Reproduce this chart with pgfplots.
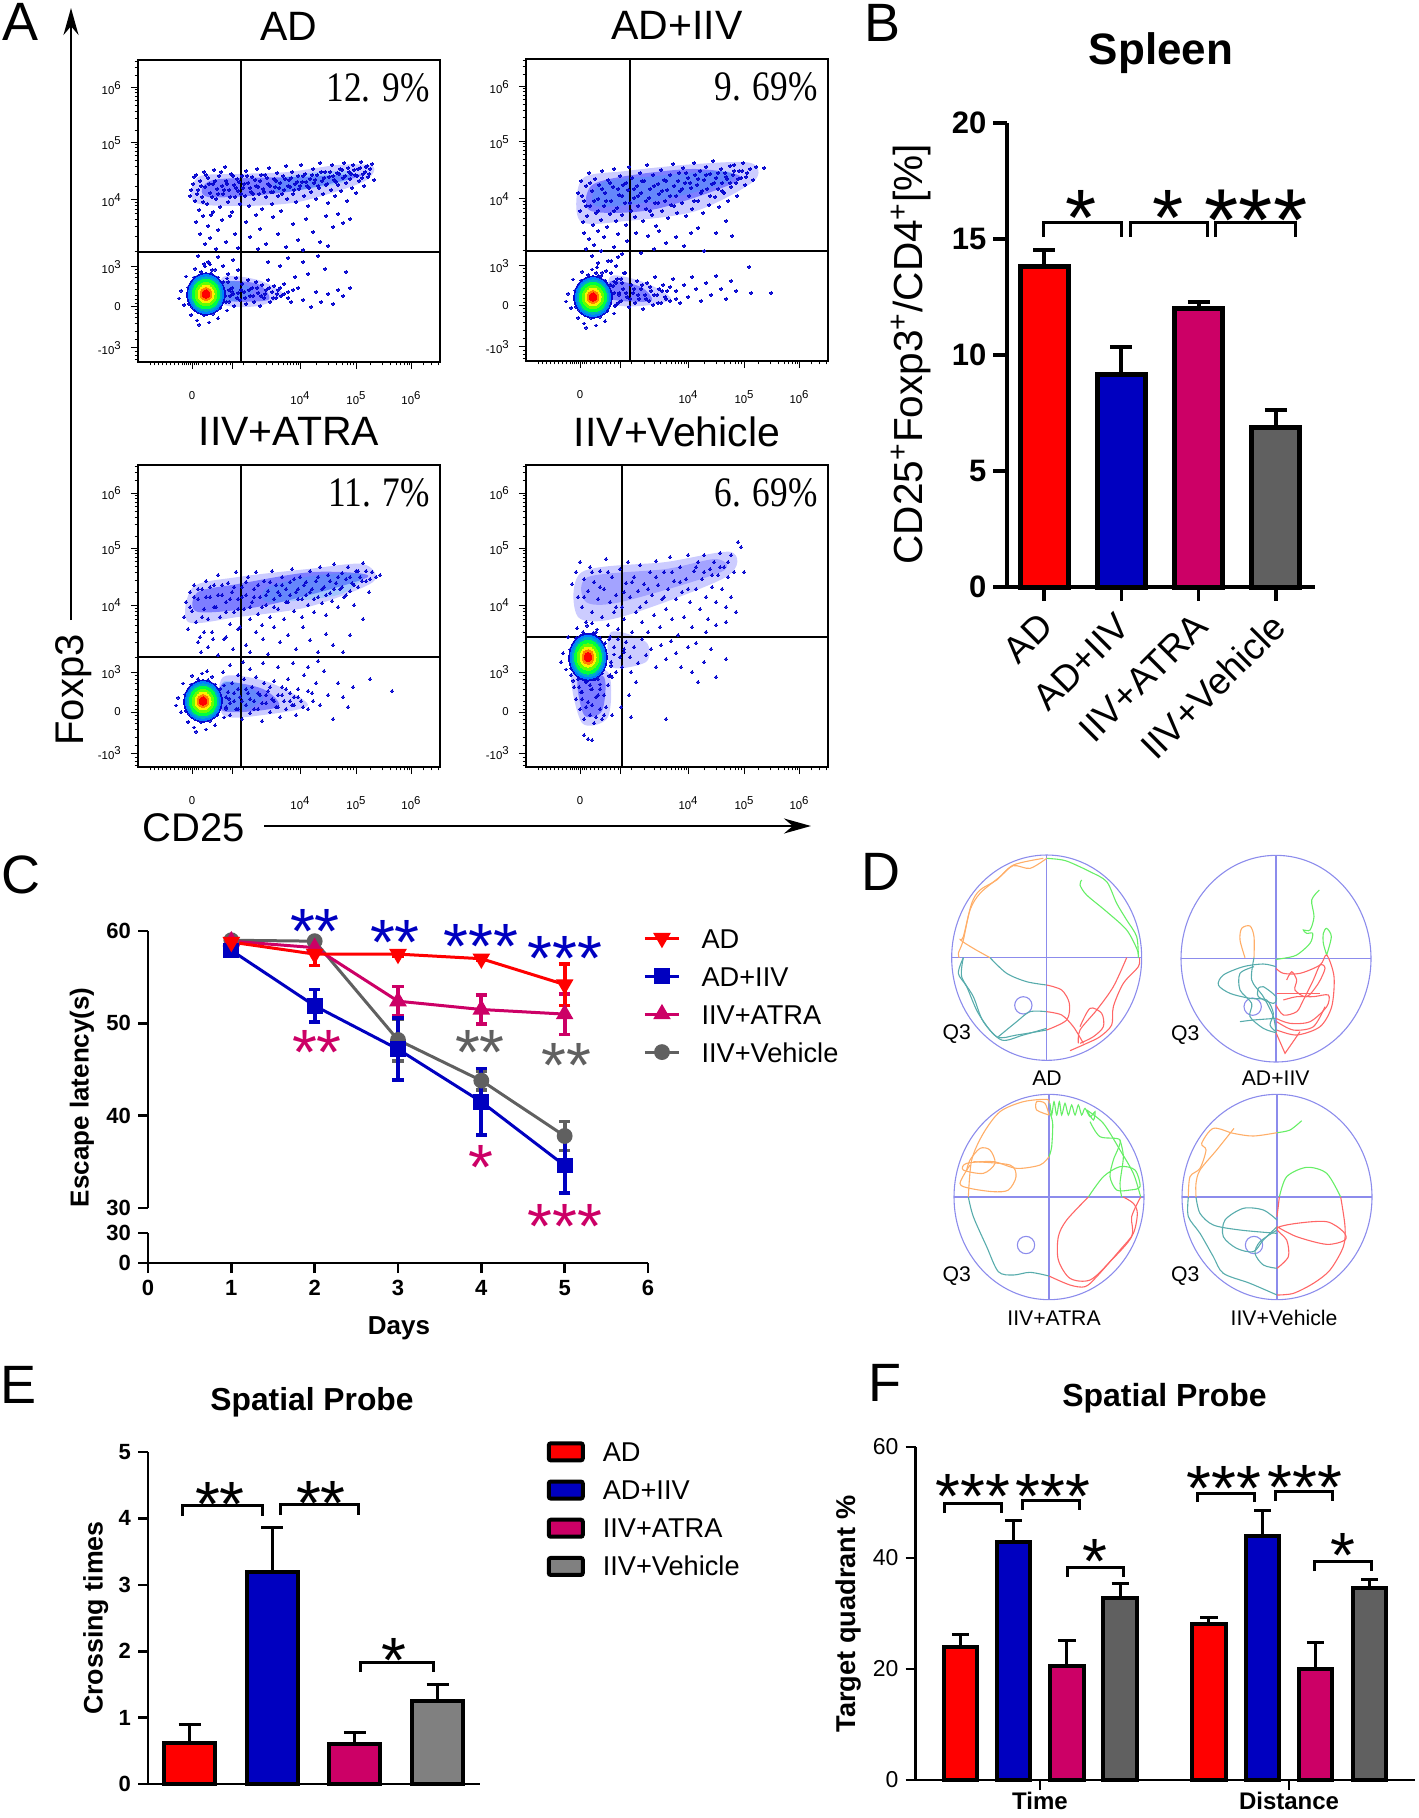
\documentclass[border=0pt]{standalone}
\usepackage{fontspec}
\setmainfont{Liberation Sans}
\newfontfamily\pctfont{Liberation Serif}
\usepackage{graphicx}
\usepackage{pgfplots}
\usepackage{pgfplotstable}
\pgfplotsset{compat=1.18}
\usetikzlibrary{arrows.meta}

\newcommand{\fs}[1]{\fontsize{#1}{#1}\selectfont}
\newcommand{\tp}[1]{10\raisebox{2.6pt}{#1}}
\newcommand{\pct}[1]{\node[anchor=east,inner sep=0pt,font=\pctfont\fs{21}] at (axis cs:292,274) {\scalebox{.84}[1]{#1}};}

\definecolor{cred}{HTML}{FF0000}
\definecolor{cblue}{HTML}{0000C0}
\definecolor{cmag}{HTML}{CC0066}
\definecolor{cgray}{HTML}{606060}
\definecolor{cgrayb}{HTML}{808080}
\definecolor{dotblue}{HTML}{0808D0}
\definecolor{ccir}{HTML}{8C8CEC}
\definecolor{ctrkt}{HTML}{58ACAC}
\definecolor{ctrko}{HTML}{FFAE68}
\definecolor{ctrkg}{HTML}{66EE66}
\definecolor{ctrkr}{HTML}{FF6666}

\pgfplotsset{
  every axis title shift=0pt,
  pos/.style 2 args={at={(#1*0.5pt,-#2*0.5pt)},anchor=south west},
  wh/.style 2 args={scale only axis,width=#1*0.5pt,height=#2*0.5pt},
  ebar/.style 2 args={
    /pgfplots/error bars/y explicit,
    /pgfplots/error bars/error bar style={line width=#1,black},
    /pgfplots/error bars/error mark options={rotate=90,mark size=#2,line width=#1,black}},
  flow/.style={
    wh={302}{302},xmin=0,xmax=302,ymin=0,ymax=302,clip=false,
    axis line style={line width=.7pt},
    tick style={black,line width=.5pt},
    tick align=outside,xtick pos=bottom,ytick pos=left,
    major tick length=3.6pt,minor tick length=1.7pt,
    xtick={54,94,162,218,273},xticklabels={0,{},\tp{4},\tp{5},\tp{6}},
    ytick={14,55,95,162,219,274},yticklabels={-\tp{3},0,\tp{3},\tp{4},\tp{5},\tp{6}},
    minor xtick={12,16,20,24,28,32,36,40,44,46,48,50,52,56,58,60,64,68,72,76,80,84,88,92,105,118,128,134,140,145,149,152,155,158,160,178,190,198,204,209,212,215,232,244,252,258,262,266,269,271,285,293,300},
    minor ytick={2,6,10,22,30,38,44,48,52,58,62,66,72,78,84,88,92,110,125,135,142,148,152,156,159,175,187,195,201,206,210,214,217,231,243,250,256,261,265,269,272,286,294,300},
    every tick label/.append style={font=\fs{5.7}},
    xticklabel style={yshift=-7.5pt},
    yticklabel style={xshift=-1.5pt},
    title style={at={(axis description cs:0.5,1.11)},anchor=center,font=\fs{20.5}},
  },
  dots/.style={only marks,mark=*,mark size=.68pt,mark options={draw=dotblue,fill=dotblue,line width=0pt}},
  band/.style={draw=none,fill=#1,fill opacity=.2,smooth cycle,forget plot},
  core/.style={draw=none,fill=#1,fill opacity=.38,smooth cycle,forget plot},
  gate/.style={black,line width=.9pt,forget plot},
  trk/.style={smooth,no markers,line width=.55pt,#1},
  prism/.style={
    axis x line*=bottom,axis y line*=left,
    axis line style={-,line width=1.3pt},
    tick style={black,line width=1.3pt},
    tick align=outside,xtick pos=bottom,ytick pos=left,
    major tick length=5pt,
    /pgf/number format/assume math mode=true,
    clip=false,
  },
}

% flow cytometry dots: px from the panel's lower left corner
\pgfplotstableread[row sep=\\]{x y\\
52 166\\55 178\\57 161\\58 187\\60 172\\61 152\\62 181\\64 165\\66 190\\67 175\\69 158\\70 184\\72 169\\73 147\\75 178\\76 192\\78 163\\79 173\\81 186\\82 155\\84 176\\85 168\\87 195\\88 181\\90 160\\91 172\\93 188\\94 150\\96 177\\97 165\\99 183\\100 171\\102 158\\104 186\\105 174\\107 166\\108 191\\110 179\\111 156\\113 170\\114 185\\116 163\\118 176\\119 193\\121 168\\122 181\\124 153\\125 173\\127 187\\128 165\\130 178\\131 194\\133 170\\134 158\\136 183\\137 175\\139 189\\140 166\\142 179\\143 151\\145 186\\146 172\\148 196\\149 163\\151 182\\152 175\\154 190\\155 168\\157 178\\158 160\\160 186\\161 173\\163 197\\164 180\\166 166\\167 188\\169 176\\170 156\\172 183\\173 170\\175 193\\176 179\\178 163\\179 187\\181 174\\182 199\\184 181\\185 168\\187 190\\188 177\\190 159\\191 185\\193 172\\194 197\\196 182\\197 166\\199 189\\200 177\\202 193\\203 171\\205 184\\206 199\\208 179\\209 161\\211 190\\212 183\\214 174\\215 197\\217 187\\218 169\\220 193\\221 181\\223 200\\225 188\\226 176\\228 195\\230 185\\232 193\\234 198\\236 182\\
53 172\\56 185\\59 168\\63 176\\65 160\\68 187\\71 178\\74 165\\77 181\\80 168\\83 190\\86 172\\89 178\\92 165\\95 186\\98 174\\101 180\\103 168\\106 178\\109 186\\112 174\\115 168\\117 182\\120 175\\123 187\\126 170\\129 184\\132 176\\135 170\\138 181\\141 174\\144 168\\147 183\\150 176\\153 184\\156 172\\159 180\\162 176\\165 186\\168 180\\171 174\\174 187\\177 182\\180 176\\183 190\\186 184\\189 178\\192 190\\195 186\\198 180\\201 188\\204 192\\207 186\\210 194\\213 188\\216 192\\219 186\\222 194\\224 184\\227 190\\229 196\\231 188\\
58 140\\62 128\\65 146\\67 118\\70 136\\72 124\\75 150\\78 113\\80 132\\84 142\\88 120\\92 146\\97 128\\100 114\\108 140\\112 125\\118 147\\122 133\\128 118\\135 145\\140 128\\148 115\\155 138\\160 122\\168 143\\175 130\\182 120\\188 146\\195 135\\200 148\\205 139\\212 143\\120 113\\165 112\\190 116\\
85 72\\88 60\\90 80\\92 66\\94 74\\96 56\\98 84\\100 69\\102 62\\104 78\\106 70\\108 58\\110 82\\112 66\\114 74\\116 60\\118 80\\120 69\\122 56\\124 77\\126 64\\128 72\\130 82\\132 60\\134 70\\136 76\\138 64\\140 72\\143 66\\146 78\\150 70\\153 60\\157 85\\160 74\\165 62\\170 88\\173 55\\178 70\\183 60\\187 93\\190 68\\195 58\\200 72\\205 66\\208 90\\212 74\\70 100\\74 92\\80 105\\85 96\\90 88\\95 102\\100 92\\60 106\\66 98\\130 100\\142 96\\150 104\\165 100\\180 106\\
87 66\\91 72\\95 68\\99 64\\103 72\\107 64\\111 72\\115 66\\119 74\\123 66\\127 68\\131 74\\135 64\\139 68\\142 74\\146 68\\150 64\\155 72\\
}\dotsAD
\pgfplotstableread[row sep=\\]{x y\\
52 168\\54 150\\55 180\\57 139\\58 160\\60 175\\61 145\\63 188\\64 155\\66 170\\67 136\\69 182\\70 148\\72 162\\73 176\\75 141\\76 190\\78 155\\79 168\\81 134\\82 181\\84 147\\85 160\\87 174\\88 192\\90 140\\91 153\\93 166\\94 185\\96 146\\97 176\\99 158\\100 136\\102 171\\103 194\\105 150\\106 183\\108 163\\109 144\\111 175\\112 155\\114 188\\115 168\\117 140\\118 180\\120 152\\121 196\\123 163\\124 172\\126 146\\127 186\\129 158\\130 135\\132 177\\133 167\\135 191\\136 150\\138 181\\139 160\\141 171\\142 143\\144 186\\145 156\\147 197\\148 175\\150 165\\151 148\\153 188\\154 170\\156 158\\157 193\\159 178\\160 145\\162 183\\163 165\\165 173\\166 152\\168 198\\169 186\\171 176\\172 160\\174 190\\175 168\\177 148\\178 181\\180 194\\181 172\\183 156\\184 187\\186 177\\187 200\\189 164\\190 183\\192 172\\193 154\\195 192\\196 178\\198 168\\199 188\\201 182\\202 160\\204 195\\205 174\\207 186\\208 196\\210 178\\211 165\\213 190\\215 183\\217 198\\219 176\\221 188\\224 192\\227 181\\230 194\\238 193\\
56 165\\60 155\\64 178\\68 160\\72 150\\76 172\\80 160\\84 178\\88 150\\92 172\\96 165\\100 178\\104 158\\108 172\\112 165\\116 180\\120 160\\124 150\\128 175\\132 158\\136 170\\140 180\\144 165\\148 155\\152 180\\156 172\\160 188\\164 178\\168 160\\172 182\\176 170\\180 186\\184 165\\188 178\\192 188\\196 170\\200 184\\204 178\\208 190\\212 182\\216 190\\220 184\\
58 128\\60 112\\63 122\\66 105\\68 116\\72 130\\75 110\\78 124\\82 100\\88 114\\92 127\\96 107\\101 120\\110 128\\115 108\\122 125\\128 112\\133 130\\140 118\\150 124\\158 115\\165 128\\172 133\\178 110\\190 128\\200 140\\206 125\\
85 62\\87 75\\89 55\\91 82\\93 68\\95 60\\97 72\\99 88\\101 64\\103 54\\105 76\\107 68\\109 58\\111 80\\113 62\\115 72\\117 52\\119 66\\121 78\\123 60\\125 70\\127 56\\129 84\\131 66\\133 72\\135 58\\137 76\\139 64\\141 70\\144 60\\147 82\\150 70\\154 58\\158 76\\162 64\\166 84\\170 72\\175 60\\180 78\\185 66\\190 85\\195 72\\200 62\\205 80\\210 70\\223 94\\245 68\\225 68\\80 90\\85 100\\90 95\\92 104\\98 88\\72 98\\
88 68\\92 58\\96 78\\100 68\\104 62\\108 72\\112 66\\116 76\\120 62\\124 74\\128 66\\132 58\\136 70\\140 62\\144 74\\150 62\\75 85\\80 78\\85 88\\90 78\\95 82\\70 88\\
}\dotsIIV
\pgfplotstableread[row sep=\\]{x y\\
46 150\\48 165\\50 138\\52 175\\54 156\\56 182\\58 145\\60 168\\62 130\\64 178\\66 158\\68 186\\70 148\\72 170\\74 135\\76 182\\78 160\\80 192\\82 150\\84 172\\86 128\\88 165\\90 184\\92 143\\94 175\\96 155\\98 195\\100 168\\102 140\\104 180\\106 158\\108 172\\110 190\\112 148\\114 165\\116 178\\118 195\\120 153\\122 170\\124 142\\126 186\\128 162\\130 176\\132 150\\134 196\\136 168\\138 182\\140 158\\142 172\\144 190\\146 148\\148 178\\150 165\\152 185\\154 198\\156 156\\158 175\\160 168\\162 190\\164 150\\166 182\\168 172\\170 162\\172 196\\174 178\\176 155\\178 186\\180 170\\182 200\\184 164\\186 180\\188 152\\190 192\\192 174\\194 166\\196 203\\198 184\\200 160\\202 178\\204 194\\206 170\\208 188\\210 200\\212 176\\214 184\\216 162\\218 196\\220 180\\222 190\\225 204\\228 186\\231 175\\234 195\\238 190\\242 192\\
52 160\\56 170\\60 178\\64 150\\68 170\\72 180\\76 160\\80 172\\84 182\\88 155\\92 168\\96 180\\100 158\\104 170\\108 185\\112 160\\116 170\\120 182\\124 160\\128 172\\132 185\\136 160\\140 175\\144 182\\148 165\\152 172\\156 188\\160 178\\164 168\\168 185\\172 175\\176 168\\180 190\\184 178\\188 172\\192 186\\196 178\\200 190\\204 180\\208 172\\212 190\\216 182\\220 196\\224 186\\228 196\\232 188\\
60 125\\63 115\\66 135\\70 120\\75 128\\80 112\\88 130\\95 118\\100 138\\108 122\\112 115\\118 135\\125 128\\130 113\\136 140\\142 125\\150 132\\158 118\\165 140\\172 127\\180 115\\188 133\\195 122\\205 115\\212 132\\225 148\\
88 60\\90 75\\92 52\\94 84\\96 66\\98 58\\100 78\\102 70\\104 48\\106 88\\108 62\\110 74\\112 54\\114 80\\116 66\\118 90\\120 58\\122 72\\124 46\\126 84\\128 64\\130 76\\132 55\\134 68\\136 86\\138 60\\140 72\\142 50\\144 80\\146 66\\148 58\\150 88\\152 74\\154 62\\156 70\\158 52\\160 78\\163 66\\166 92\\170 58\\174 74\\178 84\\182 62\\186 96\\190 72\\195 48\\200 84\\205 70\\210 60\\215 80\\232 88\\254 76\\85 95\\92 102\\100 92\\105 105\\112 98\\125 104\\140 100\\155 104\\170 100\\180 106\\
88 70\\92 64\\96 74\\100 58\\104 66\\108 78\\112 68\\116 58\\120 74\\124 64\\128 72\\132 80\\136 66\\140 60\\144 72\\148 78\\152 66\\156 62\\160 70\\165 60\\170 76\\175 66\\
}\dotsATRA
\pgfplotstableread[row sep=\\]{x y\\
46 183\\50 195\\52 170\\54 205\\56 160\\58 188\\60 145\\62 176\\64 200\\66 155\\68 185\\70 135\\72 168\\74 196\\76 150\\78 178\\80 208\\82 142\\84 165\\86 190\\88 155\\90 172\\92 138\\94 198\\96 160\\98 148\\100 184\\102 205\\104 170\\106 135\\108 190\\110 155\\112 176\\114 202\\116 145\\118 183\\120 165\\122 135\\124 195\\126 172\\128 152\\130 206\\132 182\\134 140\\136 168\\138 195\\140 158\\142 178\\144 210\\146 148\\148 186\\150 168\\152 132\\154 200\\156 175\\158 150\\160 188\\162 212\\164 165\\166 140\\168 196\\170 178\\172 205\\174 158\\176 188\\178 212\\180 170\\182 148\\184 198\\186 180\\188 205\\190 165\\192 192\\194 214\\196 178\\198 200\\200 160\\202 190\\205 212\\208 195\\212 225\\215 220\\218 195\\210 155\\200 145\\190 142\\180 135\\205 170\\
58 170\\66 195\\74 180\\82 195\\90 160\\98 175\\106 185\\114 160\\122 178\\130 190\\138 170\\146 195\\154 185\\162 178\\170 200\\178 195\\186 192\\194 200\\202 205\\60 60\\66 62\\72 72\\78 52\\64 82\\56 68\\70 50\\74 78\\
100 125\\104 110\\108 120\\112 104\\116 128\\120 112\\125 118\\130 100\\135 122\\140 108\\145 126\\150 114\\155 100\\162 120\\170 124\\178 105\\185 118\\200 108\\190 90\\172 85\\166 95\\105 95\\98 118\\110 85\\103 72\\
45 92\\48 80\\50 68\\52 88\\54 58\\56 75\\58 48\\60 85\\62 65\\64 52\\66 78\\68 44\\70 70\\72 88\\74 58\\76 48\\78 72\\80 60\\82 82\\84 92\\86 52\\58 32\\62 28\\66 27\\95 60\\105 50\\140 48\\
85 105\\88 120\\90 95\\92 128\\94 110\\96 100\\98 115\\84 130\\86 90\\
}\dotsVeh
% speckled rim of the dense core, px from its centre
\pgfplotstableread[row sep=\\]{x y\\
18 3\\23 -7\\17 11\\21 14\\12 15\\9 22\\5 19\\-1 25\\-5 20\\-11 23\\-12 15\\-20 16\\-18 6\\-25 3\\-18 -3\\-22 -10\\-17 -9\\-15 -19\\-10 -15\\-9 -24\\-2 -19\\3 -26\\7 -18\\12 -22\\14 -13\\21 -15\\26 2\\-27 -4\\4 27\\-7 -28\\
}\dotsRim

% density core of a panel, colours from the outer blue to the red centre
\newcommand{\hotring}[3]{\addplot[only marks,mark=*,mark size=#1,forget plot,mark options={draw=#2,fill=#2,line width=0pt,yscale=#3}]}
\newcommand{\hot}[3]{%
  \addplot[dots,forget plot] table[x expr=\thisrow{x}+#1,y expr=\thisrow{y}*#3+#2] {\dotsRim};
  \hotring{9.6pt}{dotblue}{#3} coordinates {(#1,#2)};
  \hotring{8.8pt}{blue!50!cyan}{#3} coordinates {(#1,#2)};
  \hotring{7.8pt}{cyan!75!green}{#3} coordinates {(#1,#2)};
  \hotring{6.8pt}{green!75!cyan}{#3} coordinates {(#1,#2)};
  \hotring{5.4pt}{green!60!yellow}{#3} coordinates {(#1,#2)};
  \hotring{4pt}{yellow}{#3} coordinates {(#1,#2)};
  \hotring{2.9pt}{orange}{#3} coordinates {(#1,#2)};
  \hotring{1.9pt}{red}{#3} coordinates {(#1,#2)};
}
\newcommand{\bracket}[5]{\draw[line width=#5] ({#1*0.5pt},{-#4*0.5pt}) -- ({#1*0.5pt},{-#3*0.5pt}) -- ({#2*0.5pt},{-#3*0.5pt}) -- ({#2*0.5pt},{-#4*0.5pt});}
\newcommand{\sig}[5]{\node[inner sep=0pt,anchor=base,text=#5,font=\fs{#4}] at ({#1*0.5pt},{-#2*0.5pt-0.52*#4pt}) {#3};}
\newcommand{\letter}[3]{\node[inner sep=0pt,font=\fs{27}] at ({#1*0.5pt},{-#2*0.5pt}) {#3};}

\begin{document}
\begin{tikzpicture}
\path (0pt,0pt) rectangle (709pt,-909pt);

% ---------- A
\begin{axis}[flow,pos={138}{362},title={AD}]
\addplot[band=blue] coordinates {(56,160)(100,156)(160,160)(225,180)(235,196)(200,197)(150,190)(100,188)(60,185)};
\addplot[core=blue] coordinates {(70,165)(150,170)(225,187)(160,185)(75,182)};
\addplot[band=cyan] coordinates {(140,170)(200,178)(215,190)(180,190)(140,183)};
\addplot[band=blue] coordinates {(85,58)(120,56)(145,68)(120,82)(85,85)};
\addplot[core=blue] coordinates {(85,62)(130,62)(120,78)(85,80)};
\addplot[band=cyan] coordinates {(85,62)(105,62)(115,72)(100,80)(85,80)};
\addplot[dots] table {\dotsAD};
\hot{68}{68}{1.1}
\addplot[gate] coordinates {(103,0)(103,302)};
\addplot[gate] coordinates {(0,110)(302,110)};
\pct{12. 9\%}
\end{axis}
\begin{axis}[flow,pos={526}{361},title={AD+IIV}]
\addplot[band=blue] coordinates {(54,140)(100,140)(170,150)(228,180)(225,198)(170,197)(100,190)(56,182)};
\addplot[core=blue] coordinates {(65,150)(130,152)(215,182)(170,192)(100,185)(65,175)};
\addplot[band=cyan] coordinates {(70,155)(130,160)(200,178)(200,190)(130,185)(75,178)};
\addplot[band=blue] coordinates {(85,58)(115,55)(145,62)(120,78)(85,85)};
\addplot[core=blue] coordinates {(85,62)(125,60)(115,74)(85,80)};
\addplot[dots] table {\dotsIIV};
\hot{67}{64}{1.1}
\addplot[gate] coordinates {(104,0)(104,302)};
\addplot[gate] coordinates {(0,110)(302,110)};
\pct{9. 69\%}
\end{axis}
\begin{axis}[flow,pos={138}{767},title={IIV+ATRA}]
\addplot[band=blue] coordinates {(50,145)(100,150)(170,160)(235,185)(225,203)(170,198)(100,190)(55,180)};
\addplot[core=blue] coordinates {(60,155)(130,162)(230,190)(175,195)(100,183)(60,175)};
\addplot[band=cyan] coordinates {(130,165)(200,172)(225,192)(180,192)(130,180)};
\addplot[band=blue] coordinates {(85,52)(125,52)(170,62)(130,85)(85,90)};
\addplot[core=blue] coordinates {(85,56)(140,60)(125,78)(85,84)};
\addplot[band=cyan] coordinates {(85,58)(110,58)(125,70)(105,82)(85,85)};
\addplot[dots] table {\dotsATRA};
\hot{65}{66}{1.1}
\addplot[gate] coordinates {(103,0)(103,302)};
\addplot[gate] coordinates {(0,110)(302,110)};
\pct{11. 7\%}
\end{axis}
\begin{axis}[flow,pos={526}{767},title={IIV+Vehicle}]
\addplot[band=blue] coordinates {(52,150)(95,150)(200,190)(205,215)(140,205)(56,195)};
\addplot[band=blue] coordinates {(60,165)(95,165)(195,195)(190,208)(140,198)(62,190)};
\addplot[band=blue] coordinates {(46,95)(82,95)(82,50)(56,44)};
\addplot[core=blue] coordinates {(52,90)(78,90)(76,56)(58,52)};
\addplot[band=blue] coordinates {(85,100)(120,105)(120,125)(85,135)};
\addplot[dots] table {\dotsVeh};
\hot{62}{110}{1.25}
\addplot[gate] coordinates {(96,0)(96,302)};
\addplot[gate] coordinates {(0,130)(302,130)};
\pct{6. 69\%}
\end{axis}
\draw[line width=1.15pt,-{Stealth[length=13.5pt,width=7.5pt]}] (35.5pt,-310pt) -- (35.5pt,-4pt);
\draw[line width=1.15pt,-{Stealth[length=13.5pt,width=7.5pt]}] (132pt,-413pt) -- (405.5pt,-413pt);
\node[rotate=90,font=\fs{20}] at (37pt,-345pt) {Foxp3};
\node[font=\fs{20}] at (97pt,-414pt) {CD25};
\letter{21}{22}{A}

% ---------- B
\begin{axis}[prism,pos={1007}{587},wh={308}{464},
  xmin=-0.479,xmax=3.506,ymin=0,ymax=20,
  axis line style={-,line width=1.7pt},tick style={black,line width=1.7pt},major tick length=6.8pt,
  ytick={0,5,10,15,20},xtick={0,1,2,3},
  xticklabels={AD,AD+IIV,IIV+ATRA,IIV+Vehicle},
  yticklabel style={font=\bfseries\fs{15.5}},
  xticklabel style={font=\fs{18.5},rotate=45,anchor=north east,inner sep=1pt,xshift=-5pt},
  bar width=24pt,
  title={Spleen},title style={at={(axis description cs:0.5,1.151)},anchor=center,font=\bfseries\fs{22}},
  ylabel={CD25\textsuperscript{+}Foxp3\textsuperscript{+}/CD4\textsuperscript{+}[\%]},
  ylabel style={at={(axis description cs:-0.312,0.502)},anchor=center,font=\fs{20.3}},
]
\addplot[ybar,bar shift=0pt,fill=cred,draw=black,line width=2.5pt,error bars/y dir=plus,ebar={2pt}{5.5pt}] coordinates {(0,13.8) +- (0,0.72)};
\addplot[ybar,bar shift=0pt,fill=cblue,draw=black,line width=2.5pt,error bars/y dir=plus,ebar={2pt}{5.5pt}] coordinates {(1,9.17) +- (0,1.17)};
\addplot[ybar,bar shift=0pt,fill=cmag,draw=black,line width=2.5pt,error bars/y dir=plus,ebar={2pt}{5.5pt}] coordinates {(2,12.0) +- (0,0.28)};
\addplot[ybar,bar shift=0pt,fill=cgray,draw=black,line width=2.5pt,error bars/y dir=plus,ebar={2pt}{5.5pt}] coordinates {(3,6.86) +- (0,0.77)};
\end{axis}
\bracket{1043}{1121}{223}{237}{1.5pt}
\bracket{1130}{1207}{223}{237}{1.5pt}
\bracket{1215}{1295}{223}{237}{1.5pt}
\sig{1081}{204}{*}{40}{black}
\sig{1168}{204}{*}{40}{black}
\sig{1256}{205}{***}{44}{black}
\letter{882}{23}{B}

% ---------- C
\begin{axis}[prism,pos={148}{1208},wh={500}{277},
  xmin=0,xmax=6,ymin=30,ymax=60,
  axis x line=none,
  ytick={30,40,50,60},
  yticklabel style={font=\bfseries\fs{11}},
  ylabel={Escape latency(s)},
  ylabel style={at={(axis description cs:-0.132,0.40)},anchor=center,font=\bfseries\fs{13}},
  reverse legend,legend cell align=left,
  legend style={at={(0.99,1.012)},anchor=north west,draw=none,fill=none,font=\fs{13.6},
    inner sep=0pt,row sep=9pt,nodes={inner sep=0pt,text height=10pt,text depth=0pt},
    /tikz/every odd column/.append style={column sep=10.5pt}},
  /pgfplots/error bars/y dir=both,
]
\addplot[cgray,line width=1.5pt,mark=*,mark size=3.2pt,mark options={fill=cgray,solid},
  error bars/y explicit,error bars/error bar style={line width=2pt,cgray},
  error bars/error mark options={rotate=90,mark size=2.9pt,line width=1.8pt,cgray}]
  coordinates {(1,59.0) +- (0,0.2) (2,58.9) +- (0,0.2) (3,48.2) +- (0,2.3) (4,43.8) +- (0,1.0) (5,37.8) +- (0,1.55)};
\addlegendentry{IIV+Vehicle}
\addplot[cmag,line width=1.5pt,mark=triangle*,mark size=3.6pt,mark options={fill=cmag,solid},
  error bars/y explicit,error bars/error bar style={line width=2pt,cmag},
  error bars/error mark options={rotate=90,mark size=2.9pt,line width=1.8pt,cmag}]
  coordinates {(1,58.9) +- (0,0.2) (2,58.2) +- (0,0.4) (3,52.4) +- (0,1.6) (4,51.5) +- (0,1.6) (5,51.0) +- (0,2.2)};
\addlegendentry{IIV+ATRA}
\addplot[cblue,line width=1.5pt,mark=square*,mark size=3.2pt,mark options={fill=cblue,solid},
  error bars/y explicit,error bars/error bar style={line width=2pt,cblue},
  error bars/error mark options={rotate=90,mark size=2.9pt,line width=1.8pt,cblue}]
  coordinates {(1,57.9) +- (0,0.5) (2,51.9) +- (0,1.75) (3,47.2) +- (0,3.35) (4,41.5) +- (0,3.6) (5,34.6) +- (0,2.95)};
\addlegendentry{AD+IIV}
\addplot[cred,line width=1.5pt,mark=triangle*,mark size=3.6pt,mark options={fill=cred,solid,rotate=180},
  error bars/y explicit,error bars/error bar style={line width=2pt,cred},
  error bars/error mark options={rotate=90,mark size=2.9pt,line width=1.8pt,cred}]
  coordinates {(1,58.8) +- (0,0.3) (2,57.5) +- (0,1.25) (3,57.5) +- (0,0.2) (4,57.0) +- (0,0.2) (5,54.2) +- (0,2.25)};
\addlegendentry{AD}
\end{axis}
\begin{axis}[prism,pos={148}{1263},wh={500}{30},
  xmin=0,xmax=6,ymin=0,ymax=30,
  ytick={0,30},xtick={0,1,2,3,4,5,6},
  xticklabel style={font=\bfseries\fs{11}},
  yticklabel style={font=\bfseries\fs{11}},
  xlabel={Days},
  xlabel style={at={(axis description cs:0.502,-2.17)},anchor=center,font=\bfseries\fs{13}},
]
\end{axis}
\sig{315}{920}{**}{32}{cblue}
\sig{395}{931}{**}{32}{cblue}
\sig{481}{935}{***}{32}{cblue}
\sig{565}{947}{***}{32}{cblue}
\sig{317}{1041}{**}{32}{cmag}
\sig{481}{1156}{*}{32}{cmag}
\sig{565}{1215}{***}{32}{cmag}
\sig{480}{1041}{**}{32}{cgray}
\sig{566}{1054}{**}{32}{cgray}
\letter{21}{875}{C}

% ---------- D, in the 3x pixels of the crop
\begin{axis}[pos={930}{1340},wh={470}{500},xmin=0,xmax=1410,ymin=0,ymax=1500,y dir=reverse,hide axis,clip=false]
\draw[ccir,line width=.55pt] (axis cs:350,353) ellipse [x radius=285,y radius=308];
\draw[ccir,line width=.55pt] (axis cs:1038,356) ellipse [x radius=285,y radius=310];
\draw[ccir,line width=.55pt] (axis cs:357,1071) ellipse [x radius=285,y radius=308];
\draw[ccir,line width=.55pt] (axis cs:1041,1071) ellipse [x radius=285,y radius=308];
\draw[ccir,line width=.55pt] (axis cs:280,496) ellipse [x radius=26,y radius=26];
\draw[ccir,line width=.55pt] (axis cs:968,500) ellipse [x radius=26,y radius=26];
\draw[ccir,line width=.55pt] (axis cs:288,1215) ellipse [x radius=26,y radius=26];
\draw[ccir,line width=.55pt] (axis cs:972,1215) ellipse [x radius=26,y radius=26];
\addplot[ccir,line width=.55pt] coordinates {(65,353)(635,353)};
\addplot[ccir,line width=.55pt] coordinates {(350,45)(350,661)};
\addplot[ccir,line width=.55pt] coordinates {(753,356)(1323,356)};
\addplot[ccir,line width=.55pt] coordinates {(1038,46)(1038,666)};
\addplot[ccir,line width=.55pt] coordinates {(72,1071)(642,1071)};
\addplot[ccir,line width=.55pt] coordinates {(357,763)(357,1379)};
\addplot[ccir,line width=.55pt] coordinates {(756,1071)(1326,1071)};
\addplot[ccir,line width=.55pt] coordinates {(1041,763)(1041,1379)};
% AD
\addplot[trk=ctrkg] coordinates {(455,120)(450,135)(470,165)(530,215)(590,270)(622,330)(625,353)};
\addplot[trk=ctrkg] coordinates {(350,55)(385,58)(415,65)(480,95)(530,125)(560,190)(590,240)(620,290)(625,353)};
\addplot[trk=ctrko] coordinates {(350,55)(300,85)(250,77)(210,110)(150,160)(120,210)(100,300)(85,340)(88,353)};
\addplot[trk=ctrko] coordinates {(340,55)(250,75)(200,120)(150,150)(125,190)(100,290)(92,300)(130,325)(180,353)};
\addplot[trk=ctrkt] coordinates {(180,353)(230,400)(290,425)(350,435)};
\addplot[trk=ctrkt] coordinates {(100,353)(85,400)(110,440)(145,520)(200,590)(260,585)(350,570)};
\addplot[trk=ctrkt] coordinates {(100,353)(95,410)(130,470)(160,545)(215,600)(280,585)(350,565)};
\addplot[trk=ctrkt] coordinates {(350,515)(300,515)(260,545)(205,590)};
\addplot[trk=ctrkr] coordinates {(350,435)(395,450)(418,490)(410,540)(350,570)};
\addplot[trk=ctrkr] coordinates {(350,515)(395,525)(430,560)(460,610)};
\addplot[trk=ctrkr] coordinates {(628,353)(625,380)(580,430)(550,500)(545,555)(510,590)(470,610)(420,632)};
\addplot[trk=ctrkr] coordinates {(590,353)(550,440)(500,510)(450,570)(445,610)};
\addplot[trk=ctrkr] coordinates {(450,560)(480,505)(515,520)(520,560)(490,590)(450,610)};
% AD+IIV
\addplot[trk=ctrkg] coordinates {(1168,150)(1145,180)(1152,230)(1140,270)(1120,270)(1130,280)(1148,280)(1140,310)(1100,345)(1060,355)(1038,358)};
\addplot[trk=ctrkg] coordinates {(1190,345)(1180,310)(1180,280)(1190,265)(1204,290)(1190,345)};
\addplot[trk=ctrko] coordinates {(945,353)(930,300)(935,265)(960,258)(972,290)(972,353)};
\addplot[trk=ctrkt] coordinates {(972,353)(965,420)(1000,470)(1030,530)(1038,578)};
\addplot[trk=ctrkt] coordinates {(1038,380)(1000,372)(940,380)(880,405)(865,435)(900,460)(960,475)(1010,480)(1030,520)(1020,555)(1038,575)};
\addplot[trk=ctrkt] coordinates {(930,545)(970,540)(1038,535)};
\addplot[trk=ctrkt] coordinates {(972,380)(930,400)(930,450)(965,490)(960,530)(1000,565)(1038,578)};
\addplot[trk=ctrkt] coordinates {(985,445)(1000,440)(1038,470)(1030,490)(985,470)(985,445)};
\addplot[trk=ctrkr] coordinates {(1038,385)(1060,400)(1110,400)(1170,375)(1190,345)(1212,410)(1205,500)(1170,560)(1100,585)(1040,570)};
\addplot[ctrkr,line width=.55pt] coordinates {(1038,578)(1065,640)(1110,575)};
\addplot[ctrkr,line width=.55pt] coordinates {(1040,460)(1100,460)(1170,460)};
\addplot[trk=ctrkr] coordinates {(1070,420)(1085,395)(1100,420)(1095,450)(1130,470)(1165,430)(1185,385)(1170,375)(1150,420)(1120,480)(1100,515)(1060,525)(1038,495)};
\addplot[trk=ctrkr] coordinates {(1038,535)(1080,550)(1140,545)(1190,500)(1195,465)(1150,470)(1100,470)(1060,480)};
\addplot[trk=ctrkr] coordinates {(1040,545)(1090,570)(1150,560)(1185,500)};
% IIV+ATRA
\addplot[trk=ctrkg] coordinates {(360,790)(365,825)(372,785)(380,825)(388,785)(395,825)(405,790)(415,825)(425,795)(435,825)(445,795)(455,825)(465,805)(480,830)(495,815)(490,840)(470,810)};
\addplot[trk=ctrkg] coordinates {(480,845)(510,890)(570,900)(550,960)(540,1010)(560,1050)(600,1050)(630,1040)(615,990)(570,980)(520,1010)(475,1071)};
\addplot[trk=ctrkg] coordinates {(570,900)(580,950)(570,1030)(575,1071)};
\addplot[trk=ctrkg] coordinates {(470,810)(520,850)(570,930)(610,1000)(632,1071)};
\addplot[trk=ctrkg] coordinates {(360,820)(368,850)(365,920)(357,950)};
\addplot[trk=ctrko] coordinates {(357,790)(350,778)(280,785)(210,815)(160,880)(125,960)(115,1071)};
\addplot[trk=ctrko] coordinates {(357,950)(330,975)(260,985)(190,965)(110,970)(100,990)(160,1000)(195,970)(180,930)(150,925)(120,960)(110,990)};
\addplot[trk=ctrko] coordinates {(130,965)(240,975)(258,1010)(235,1050)(190,1055)(120,1045)(90,1030)(120,975)};
\addplot[trk=ctrko] coordinates {(357,825)(320,810)(320,785)(345,790)(357,825)};
\addplot[trk=ctrkt] coordinates {(115,1071)(130,1130)(170,1220)(205,1295)(250,1305)(300,1297)(357,1308)};
\addplot[trk=ctrkr] coordinates {(357,1308)(420,1335)(465,1340)(500,1310)(570,1230)(610,1180)(622,1120)(610,1090)(580,1071)};
\addplot[trk=ctrkr] coordinates {(632,1071)(605,1130)(605,1190)(540,1265)(480,1320)(420,1315)(385,1260)(385,1190)(410,1140)(475,1071)};
% IIV+Vehicle
\addplot[trk=ctrkg] coordinates {(1115,842)(1080,870)(1041,878)};
\addplot[trk=ctrkg] coordinates {(1048,1071)(1070,1010)(1130,982)(1190,1000)(1232,1071)};
\addplot[trk=ctrko] coordinates {(1041,878)(970,888)(910,880)(850,865)(815,910)(828,930)(810,985)(780,1010)(775,1071)};
\addplot[trk=ctrko] coordinates {(912,865)(860,930)(810,990)(798,1030)(798,1071)};
\addplot[trk=ctrkt] coordinates {(775,1071)(775,1130)(810,1180)(850,1250)(880,1300)(960,1330)(1041,1365)};
\addplot[trk=ctrkt] coordinates {(798,1071)(810,1120)(850,1155)(930,1170)(1041,1180)};
\addplot[trk=ctrkt] coordinates {(1041,1140)(1000,1110)(940,1105)(885,1140)(880,1190)(920,1225)(970,1235)(1000,1200)(1041,1160)};
\addplot[trk=ctrkt] coordinates {(1041,1170)(990,1205)(975,1240)(1000,1275)(1041,1285)};
\addplot[trk=ctrkr] coordinates {(1041,1285)(1075,1250)(1070,1200)(1041,1165)(1100,1150)(1190,1145)(1240,1175)(1245,1200)(1190,1213)(1100,1190)(1041,1160)};
\addplot[trk=ctrkr] coordinates {(1232,1071)(1245,1160)(1240,1220)(1200,1290)(1150,1330)(1090,1360)(1041,1365)};
\addplot[trk=ctrkr] coordinates {(1048,1071)(1041,1130)};
\node[font=\fs{10.6}] at (axis cs:80,582) {Q3};
\node[font=\fs{10.6}] at (axis cs:766,586) {Q3};
\node[font=\fs{10.6}] at (axis cs:80,1307) {Q3};
\node[font=\fs{10.6}] at (axis cs:766,1307) {Q3};
\node[font=\fs{10.6}] at (axis cs:351,716) {AD};
\node[font=\fs{10.6}] at (axis cs:1037,716) {AD+IIV};
\node[font=\fs{10.6}] at (axis cs:372,1435) {IIV+ATRA};
\node[font=\fs{10.6}] at (axis cs:1062,1435) {IIV+Vehicle};
\end{axis}
\letter{881}{872}{D}

% ---------- E
\begin{axis}[prism,pos={148}{1784},wh={332}{332},
  xmin=-0.502,xmax=3.513,ymin=0,ymax=5,
  ytick={0,1,2,3,4,5},xtick=\empty,
  yticklabel style={font=\bfseries\fs{11}},
  bar width=25.5pt,
  title={Spatial Probe},title style={at={(axis description cs:0.494,1.15)},anchor=center,font=\bfseries\fs{15.9}},
  ylabel={Crossing times},
  ylabel style={at={(axis description cs:-0.157,0.5)},anchor=center,font=\bfseries\fs{13.4}},
  legend cell align=left,
  legend style={at={(1.2,1.034)},anchor=north west,draw=none,fill=none,font=\fs{13.6},
    inner sep=0pt,row sep=8.5pt,nodes={inner sep=0pt,text height=10pt,text depth=0pt},
    /tikz/every odd column/.append style={column sep=9pt}},
  legend image code/.code={\draw[#1,rounded corners=1pt] (0pt,-4.6pt) rectangle (17pt,3.9pt);},
]
\addplot[ybar,bar shift=0pt,fill=cred,draw=black,line width=2pt,error bars/y dir=plus,ebar={1.5pt}{5.5pt}] coordinates {(0,0.62) +- (0,0.28)};
\addlegendentry{AD}
\addplot[ybar,bar shift=0pt,fill=cblue,draw=black,line width=2pt,error bars/y dir=plus,ebar={1.5pt}{5.5pt}] coordinates {(1,3.19) +- (0,0.68)};
\addlegendentry{AD+IIV}
\addplot[ybar,bar shift=0pt,fill=cmag,draw=black,line width=2pt,error bars/y dir=plus,ebar={1.5pt}{5.5pt}] coordinates {(2,0.60) +- (0,0.17)};
\addlegendentry{IIV+ATRA}
\addplot[ybar,bar shift=0pt,fill=cgrayb,draw=black,line width=2pt,error bars/y dir=plus,ebar={1.5pt}{5.5pt}] coordinates {(3,1.25) +- (0,0.25)};
\addlegendentry{IIV+Vehicle}
\end{axis}
\bracket{182}{262}{1505}{1516}{1.5pt}
\bracket{280}{358}{1504}{1515}{1.5pt}
\bracket{360}{433}{1662}{1672}{1.5pt}
\sig{220}{1493}{**}{32}{black}
\sig{321}{1492}{**}{32}{black}
\sig{394}{1649}{*}{32}{black}
\letter{19}{1385}{E}

% ---------- F
\begin{axis}[prism,pos={915.5}{1780},wh={499.5}{333},
  xmin=-0.846,xmax=8.543,ymin=0,ymax=60,
  ytick={0,20,40,60},xtick={1.494,6.175},xticklabels={Time,Distance},
  yticklabel style={font=\fs{11.5}},
  xticklabel style={font=\bfseries\fs{12},inner sep=1pt},
  bar width=16.75pt,
  title={Spatial Probe},title style={at={(axis description cs:0.4985,1.147)},anchor=center,font=\bfseries\fs{16}},
  ylabel={Target quadrant \%},
  ylabel style={at={(axis description cs:-0.135,0.4985)},anchor=center,font=\bfseries\fs{13.6}},
]
\addplot[ybar,bar shift=0pt,fill=cred,draw=black,line width=2pt,error bars/y dir=plus,ebar={1.5pt}{4.3pt}] coordinates {(0,24.05) +- (0,2.25) (4.67,28.1) +- (0,1.2)};
\addplot[ybar,bar shift=0pt,fill=cblue,draw=black,line width=2pt,error bars/y dir=plus,ebar={1.5pt}{4.3pt}] coordinates {(1,42.8) +- (0,4.0) (5.68,44.0) +- (0,4.5)};
\addplot[ybar,bar shift=0pt,fill=cmag,draw=black,line width=2pt,error bars/y dir=plus,ebar={1.5pt}{4.3pt}] coordinates {(2,20.6) +- (0,4.5) (6.67,20.0) +- (0,4.7)};
\addplot[ybar,bar shift=0pt,fill=cgray,draw=black,line width=2pt,error bars/y dir=plus,ebar={1.5pt}{4.3pt}] coordinates {(3,32.8) +- (0,2.6) (7.69,34.6) +- (0,1.6)};
\end{axis}
\bracket{944}{1001}{1503}{1513}{1.5pt}
\bracket{1022}{1079}{1500}{1510}{1.5pt}
\bracket{1067}{1123}{1567}{1577}{1.5pt}
\bracket{1197}{1254}{1493}{1502}{1.5pt}
\bracket{1275}{1332}{1491}{1501}{1.5pt}
\bracket{1314}{1371}{1561}{1571}{1.5pt}
\sig{973}{1485}{***}{32}{black}
\sig{1053}{1485}{***}{32}{black}
\sig{1095}{1550}{*}{32}{black}
\sig{1224}{1477}{***}{32}{black}
\sig{1305}{1476}{***}{32}{black}
\sig{1343}{1544}{*}{32}{black}
\letter{885}{1383}{F}
\end{tikzpicture}
\end{document}
